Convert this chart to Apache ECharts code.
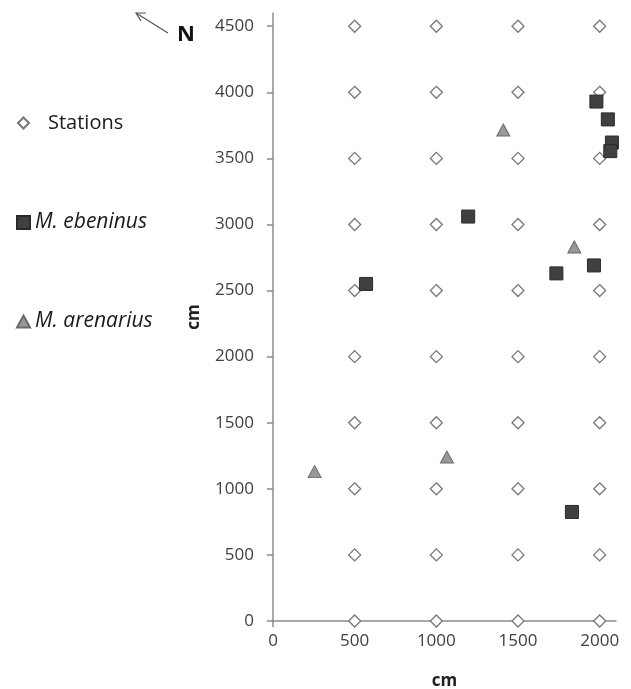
<!DOCTYPE html>
<html>
<head>
<meta charset="utf-8">
<script src="https://cdn.jsdelivr.net/npm/echarts@6/dist/echarts.min.js"></script>
<style>html,body{margin:0;padding:0;background:#fff}#c{width:631px;height:689px}</style>
</head>
<body>
<div id="c"></div>
<script>
const xTicks = [0, 500, 1000, 1500, 2000];
const yTicks = [0, 500, 1000, 1500, 2000, 2500, 3000, 3500, 4000, 4500];
const stationX = [500, 1000, 1500, 2000];
const stationY = [0, 500, 1000, 1500, 2000, 2500, 3000, 3500, 4000, 4500];
const ebeninus = [[1980, 3930], [2050, 3795], [2075, 3620], [2065, 3555], [1195, 3060], [570, 2550], [1735, 2630], [1965, 2690], [1830, 825]];
const arenarius = [[1410, 3715], [1845, 2830], [255, 1130], [1065, 1240]];

const stations = [];
stationX.forEach(x => stationY.forEach(y => stations.push([x, y])));

const FONT = '"Open Sans", "Noto Sans", sans-serif';
const chart = echarts.init(document.getElementById('c'), null, {renderer: 'canvas'});
const axisLineStyle = {color: '#8c8c8c', width: 1.5};
chart.setOption({
  animation: false,
  textStyle: {fontFamily: FONT},
  grid: {left: 273, right: 15, top: 13, bottom: 68, outerBoundsMode: 'none', containLabel: false},
  xAxis: {
    type: 'value', min: 0, max: 2100, interval: 500,
    axisLine: {show: true, lineStyle: axisLineStyle},
    axisTick: {show: true, length: 6, lineStyle: axisLineStyle, customValues: xTicks},
    axisLabel: {customValues: xTicks, formatter: v => String(v), color: '#404040', fontSize: 17, fontFamily: FONT, margin: 12},
    splitLine: {show: false},
    name: 'cm', nameLocation: 'middle', nameGap: 52,
    nameTextStyle: {fontWeight: 'bold', fontSize: 17, color: '#222', fontFamily: FONT}
  },
  yAxis: {
    type: 'value', min: 0, max: 4600, interval: 500,
    axisLine: {show: true, lineStyle: axisLineStyle},
    axisTick: {show: true, length: 6, lineStyle: axisLineStyle, customValues: yTicks},
    axisLabel: {customValues: yTicks, formatter: v => String(v), color: '#404040', fontSize: 17, fontFamily: FONT, margin: 19},
    splitLine: {show: false},
    name: 'cm', nameLocation: 'middle', nameGap: 70,
    nameTextStyle: {fontWeight: 'bold', fontSize: 17, color: '#222', fontFamily: FONT}
  },
  legend: [
    {data: ['Stations'], left: 17, top: 113, padding: 0, itemWidth: 11, itemHeight: 11, itemGap: 0,
     formatter: n => '{s|' + n + '}',
     textStyle: {fontSize: 20, color: '#1a1a1a', fontFamily: FONT, rich: {s: {fontSize: 20, padding: [0, 0, 0, 14], fontFamily: FONT, color: '#1a1a1a'}}}},
    {data: ['M. ebeninus'], left: 16, top: 212, padding: 0, itemWidth: 13, itemHeight: 13,
     textStyle: {fontSize: 21, fontStyle: 'italic', color: '#1a1a1a', fontFamily: FONT}},
    {data: ['M. arenarius'], left: 16, top: 311, padding: 0, itemWidth: 13, itemHeight: 12,
     textStyle: {fontSize: 21, fontStyle: 'italic', color: '#1a1a1a', fontFamily: FONT}}
  ],
  graphic: [
    {type: 'line', shape: {x1: 168, y1: 33, x2: 136, y2: 13}, style: {stroke: '#555', lineWidth: 1.2}},
    {type: 'polyline', shape: {points: [[146, 13], [136, 13], [141, 21]]}, style: {stroke: '#555', lineWidth: 1.2, fill: null}},
    {type: 'text', left: 177, top: 24, style: {text: 'N', fontSize: 22, fontWeight: 'bold', fill: '#111', fontFamily: FONT}}
  ],
  series: [
    {name: 'Stations', type: 'scatter', data: stations, symbol: 'diamond', symbolSize: 12,
     itemStyle: {color: '#fff', borderColor: '#777', borderWidth: 1.3, opacity: 1}, z: 2},
    {name: 'M. ebeninus', type: 'scatter', data: ebeninus, symbol: 'rect', symbolSize: 13,
     itemStyle: {color: '#404040', borderColor: '#2a2a2a', borderWidth: 1, opacity: 1}, z: 3},
    {name: 'M. arenarius', type: 'scatter', data: arenarius, symbol: 'triangle', symbolSize: [13, 12],
     itemStyle: {color: '#999', borderColor: '#6a6a6a', borderWidth: 1, opacity: 1}, z: 3}
  ]
});
</script>
</body>
</html>
